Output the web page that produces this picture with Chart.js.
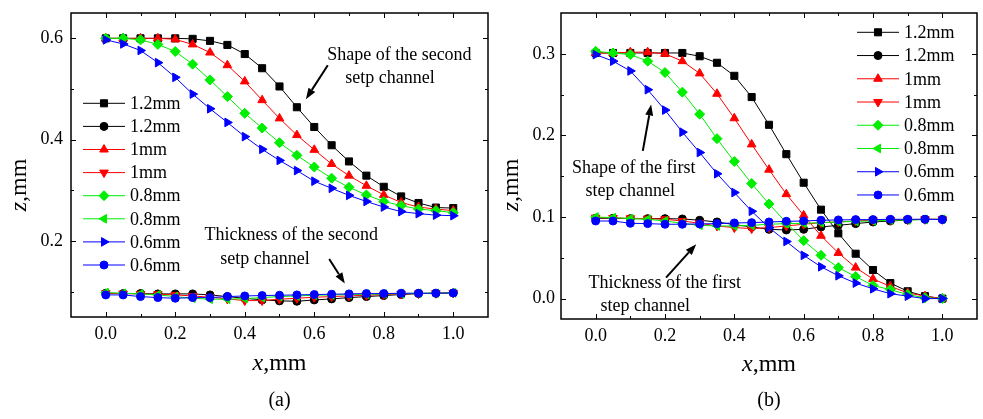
<!DOCTYPE html>
<html>
<head>
<meta charset="utf-8">
<script src="https://cdn.jsdelivr.net/npm/chart.js@4.4.1/dist/chart.umd.min.js"></script>
<style>
  html, body { margin: 0; padding: 0; background: #fff; }
  #wrap { position: relative; width: 983px; height: 419px; overflow: hidden; background: #fff; }
  #chartA { position: absolute; left: 0; top: 0; }
  #chartB { position: absolute; left: 495px; top: 0; }
</style>
</head>
<body>
<div id="wrap">
  <canvas id="chartA" width="495" height="419" style="width:495px;height:419px"></canvas>
  <canvas id="chartB" width="488" height="419" style="width:488px;height:419px"></canvas>
</div>
<script>
// x positions along the channel (mm)
const xValues = [0, 0.05, 0.1, 0.15, 0.2, 0.25, 0.3, 0.35, 0.4, 0.45, 0.5,
                 0.55, 0.6, 0.65, 0.7, 0.75, 0.8, 0.85, 0.9, 0.95, 1.0];

// (a) second step channel
const aShape12 = [0.600,0.600,0.600,0.600,0.600,0.599,0.595,0.587,0.569,0.541,0.505,0.464,0.425,0.389,0.357,0.329,0.307,0.288,0.275,0.266,0.265];
const aThick12 = [0.0969,0.0962,0.0962,0.0956,0.0956,0.0956,0.0936,0.0903,0.0870,0.0837,0.0818,0.0811,0.0837,0.0857,0.0883,0.0903,0.0923,0.0943,0.0962,0.0969,0.0975];
const aShape10 = [0.600,0.600,0.600,0.600,0.598,0.588,0.572,0.547,0.515,0.478,0.442,0.409,0.380,0.352,0.329,0.309,0.291,0.276,0.267,0.263,0.260];
const aThick10 = [0.0969,0.0962,0.0956,0.0949,0.0936,0.0916,0.0890,0.0857,0.0824,0.0824,0.0851,0.0870,0.0890,0.0903,0.0916,0.0929,0.0943,0.0956,0.0962,0.0969,0.0975];
const aShape08 = [0.600,0.600,0.597,0.588,0.574,0.549,0.518,0.485,0.452,0.423,0.394,0.369,0.346,0.324,0.306,0.291,0.278,0.270,0.263,0.260,0.256];
const aThick08 = [0.0982,0.0969,0.0956,0.0936,0.0903,0.0870,0.0851,0.0851,0.0864,0.0883,0.0903,0.0916,0.0929,0.0936,0.0943,0.0949,0.0956,0.0962,0.0969,0.0969,0.0975];
const aShape06 = [0.597,0.589,0.576,0.552,0.523,0.490,0.461,0.434,0.406,0.381,0.359,0.339,0.318,0.304,0.290,0.278,0.267,0.258,0.254,0.251,0.250];
const aThick06 = [0.0936,0.0936,0.0903,0.0883,0.0870,0.0883,0.0883,0.0903,0.0916,0.0923,0.0929,0.0936,0.0943,0.0949,0.0956,0.0962,0.0962,0.0969,0.0969,0.0969,0.0975];

// (b) first step channel
const bShape12 = [0.301,0.301,0.301,0.301,0.301,0.301,0.297,0.289,0.273,0.247,0.213,0.177,0.142,0.109,0.080,0.055,0.035,0.019,0.009,0.003,0.000];
const bThick12 = [0.0984,0.0984,0.0980,0.0980,0.0980,0.0976,0.0960,0.0939,0.0907,0.0878,0.0849,0.0841,0.0849,0.0878,0.0898,0.0919,0.0939,0.0951,0.0964,0.0972,0.0972];
const bShape10 = [0.301,0.301,0.302,0.302,0.300,0.291,0.276,0.251,0.221,0.189,0.158,0.128,0.102,0.077,0.056,0.038,0.024,0.015,0.007,0.003,0.000];
const bThick10 = [0.0992,0.0988,0.0984,0.0980,0.0972,0.0951,0.0923,0.0890,0.0870,0.0858,0.0870,0.0890,0.0911,0.0931,0.0939,0.0951,0.0960,0.0964,0.0968,0.0972,0.0972];
const bShape08 = [0.303,0.301,0.299,0.291,0.277,0.253,0.226,0.196,0.168,0.141,0.116,0.093,0.071,0.053,0.038,0.027,0.016,0.011,0.005,0.001,0.000];
const bThick08 = [0.1000,0.0992,0.0980,0.0972,0.0951,0.0923,0.0898,0.0890,0.0890,0.0898,0.0911,0.0919,0.0923,0.0931,0.0939,0.0947,0.0951,0.0960,0.0964,0.0968,0.0972];
const bShape06 = [0.299,0.291,0.279,0.256,0.231,0.204,0.179,0.153,0.130,0.107,0.087,0.070,0.053,0.039,0.028,0.019,0.012,0.006,0.003,0.000,0.000];
const bThick06 = [0.0951,0.0951,0.0923,0.0919,0.0911,0.0911,0.0915,0.0919,0.0927,0.0931,0.0939,0.0947,0.0951,0.0960,0.0964,0.0968,0.0968,0.0972,0.0972,0.0972,0.0968];

const seriesLabels = ['1.2mm', '1.2mm', '1mm', '1mm', '0.8mm', '0.8mm', '0.6mm', '0.6mm'];
const seriesColors = ['#000000', '#000000', '#ff0000', '#ff0000', '#00ee00', '#00ee00', '#0000ff', '#0000ff'];
const seriesMarkers = ['rect', 'circle', 'triangle', 'triangle', 'rectRot', 'triangle', 'triangle', 'circle'];
const seriesRotation = [0, 0, 0, 180, 0, 270, 90, 0];
const seriesRadius = [5, 4, 5, 5, 5, 5, 5, 4];

// axis ticks
const xTickValues = [0, 0.2, 0.4, 0.6, 0.8, 1.0];
const xMinorValues = [0.1, 0.3, 0.5, 0.7, 0.9];
const aYTickValues = [0.2, 0.4, 0.6];
const aYMinorValues = [0.1, 0.3, 0.5];
const bYTickValues = [0.0, 0.1, 0.2, 0.3];
const bYMinorValues = [0.05, 0.15, 0.25];

const SERIF = '"Liberation Serif", "Times New Roman", serif';

const makeDatasets = (series) => series.map((ys, i) => ({
    label: seriesLabels[i],
    data: xValues.map((x, j) => ({ x: x, y: ys[j] })),
    borderColor: seriesColors[i],
    backgroundColor: seriesColors[i],
    borderWidth: 1,
    pointStyle: seriesMarkers[i],
    pointRotation: seriesRotation[i],
    pointRadius: seriesRadius[i],
    pointBackgroundColor: seriesColors[i],
    pointBorderColor: seriesColors[i],
    pointBorderWidth: 1,
    tension: 0,
    order: series.length - i
}));

const markPoint = (ctx, style, rotation, radius, x, y) => {
    if (Chart.helpers && Chart.helpers.drawPoint) {
        Chart.helpers.drawPoint(ctx, { pointStyle: style, rotation: rotation, radius: radius, borderWidth: 1 }, x, y);
    } else {
        ctx.beginPath();
        ctx.arc(x, y, radius, 0, Math.PI * 2);
        ctx.fill();
    }
};

const drawVarTitle = (ctx, v, rest, x, y, rotate) => {
    ctx.save();
    ctx.translate(x, y);
    if (rotate) ctx.rotate(-Math.PI / 2);
    ctx.fillStyle = '#000';
    ctx.textBaseline = 'middle';
    ctx.textAlign = 'left';
    ctx.font = 'italic 24px ' + SERIF;
    const w1 = ctx.measureText(v).width;
    ctx.font = '24px ' + SERIF;
    const w2 = ctx.measureText(rest).width;
    const sx = -(w1 + w2) / 2;
    ctx.font = 'italic 24px ' + SERIF;
    ctx.fillText(v, sx, 0);
    ctx.font = '24px ' + SERIF;
    ctx.fillText(rest, sx + w1, 0);
    ctx.restore();
};

const drawArrow = (ctx, x1, y1, x2, y2) => {
    const ang = Math.atan2(y2 - y1, x2 - x1);
    const len = 11, half = 4;
    const bx = x2 - Math.cos(ang) * len, by = y2 - Math.sin(ang) * len;
    ctx.beginPath();
    ctx.moveTo(x1, y1);
    ctx.lineTo(bx, by);
    ctx.lineWidth = 2;
    ctx.stroke();
    ctx.beginPath();
    ctx.moveTo(x2, y2);
    ctx.lineTo(bx - Math.sin(ang) * half, by + Math.cos(ang) * half);
    ctx.lineTo(bx + Math.sin(ang) * half, by - Math.cos(ang) * half);
    ctx.closePath();
    ctx.fill();
};

// frame, inward ticks, titles, notes and legend
const decoPlugin = {
    id: 'deco',
    afterDraw(chart) {
        const o = chart.options.plugins.deco;
        const ctx = chart.ctx, a = chart.chartArea;
        const sx = chart.scales.x, sy = chart.scales.y;
        ctx.save();
        ctx.strokeStyle = '#000';
        ctx.fillStyle = '#000';
        ctx.lineWidth = 1.5;
        ctx.strokeRect(a.left, a.top, a.right - a.left, a.bottom - a.top);

        ctx.lineWidth = 1;
        const tickX = (vals, len) => vals.forEach(v => {
            const px = Math.round(sx.getPixelForValue(v)) + 0.5;
            ctx.beginPath();
            ctx.moveTo(px, a.bottom); ctx.lineTo(px, a.bottom - len);
            ctx.moveTo(px, a.top); ctx.lineTo(px, a.top + len);
            ctx.stroke();
        });
        const tickY = (vals, len) => vals.forEach(v => {
            const py = Math.round(sy.getPixelForValue(v)) + 0.5;
            ctx.beginPath();
            ctx.moveTo(a.left, py); ctx.lineTo(a.left + len, py);
            ctx.moveTo(a.right, py); ctx.lineTo(a.right - len, py);
            ctx.stroke();
        });
        tickX(xTickValues, 5);
        tickX(xMinorValues, 3);
        tickY(o.yMajor, 5);
        tickY(o.yMinor, 3);

        const cx = (a.left + a.right) / 2;
        drawVarTitle(ctx, 'x', ',mm', cx, o.xTitleY, false);
        drawVarTitle(ctx, 'z', ',mm', o.yTitleX, o.yTitleY, true);

        ctx.font = '20px ' + SERIF;
        ctx.textAlign = 'center';
        ctx.textBaseline = 'middle';
        ctx.fillText(o.panel, cx, o.panelY);

        ctx.font = '18px ' + SERIF;
        o.notes.forEach(n => {
            ctx.fillText(n.text, sx.getPixelForValue(n.x), sy.getPixelForValue(n.y));
        });
        o.arrows.forEach(r => {
            drawArrow(ctx, sx.getPixelForValue(r.x1), sy.getPixelForValue(r.y1),
                sx.getPixelForValue(r.x2), sy.getPixelForValue(r.y2));
        });

        // legend
        ctx.textAlign = 'left';
        chart.data.datasets.forEach((ds, i) => {
            const y = o.legend.y + i * o.legend.dy;
            const x = o.legend.x;
            ctx.strokeStyle = ds.borderColor;
            ctx.fillStyle = ds.borderColor;
            ctx.lineWidth = 1;
            ctx.beginPath();
            ctx.moveTo(x, y); ctx.lineTo(x + 42, y);
            ctx.stroke();
            markPoint(ctx, ds.pointStyle, ds.pointRotation, ds.pointRadius, x + 21, y);
            ctx.fillStyle = '#000';
            ctx.fillText(ds.label, x + 47, y + 1);
        });
        ctx.restore();
    }
};

const makeOptions = (cfg) => ({
    responsive: false,
    animation: false,
    layout: { padding: { top: cfg.padTop, right: cfg.padRight, left: 0, bottom: 0 } },
    plugins: {
        legend: { display: false },
        tooltip: { enabled: false },
        deco: cfg
    },
    scales: {
        x: {
            type: 'linear',
            min: -0.1,
            max: 1.1,
            afterBuildTicks: s => { s.ticks = xTickValues.map(v => ({ value: v })); },
            afterFit: s => { s.height = cfg.xAxisHeight; s.paddingLeft = 0; s.paddingRight = 0; },
            grid: { display: false, drawTicks: false },
            border: { display: false },
            ticks: {
                padding: 6, autoSkip: false, maxRotation: 0, color: '#000',
                font: { family: SERIF, size: 18 },
                callback: v => v.toFixed(1)
            }
        },
        y: {
            type: 'linear',
            min: cfg.yMin,
            max: cfg.yMax,
            afterBuildTicks: s => { s.ticks = cfg.yMajor.map(v => ({ value: v })); },
            afterFit: s => { s.width = cfg.yAxisWidth; s.paddingTop = 0; s.paddingBottom = 0; },
            grid: { display: false, drawTicks: false },
            border: { display: false },
            ticks: {
                padding: cfg.yPad, autoSkip: false, color: '#000',
                font: { family: SERIF, size: 18 },
                callback: v => v.toFixed(1)
            }
        }
    }
});

new Chart(document.getElementById('chartA'), {
    type: 'line',
    data: { datasets: makeDatasets([aShape12, aThick12, aShape10, aThick10, aShape08, aThick08, aShape06, aThick06]) },
    options: makeOptions({
        padTop: 13, padRight: 7, xAxisHeight: 102, yAxisWidth: 71, yPad: 8,
        yMin: 0.05, yMax: 0.65, yMajor: aYTickValues, yMinor: aYMinorValues,
        xTitleY: 364, yTitleX: 20, yTitleY: 185, panel: '(a)', panelY: 401,
        legend: { x: 83, y: 103.3, dy: 23.1 },
        notes: [
            { x: 0.845, y: 0.567, text: 'Shape of the second' },
            { x: 0.818, y: 0.522, text: 'setp channel' },
            { x: 0.534, y: 0.2105, text: 'Thickness of the second' },
            { x: 0.458, y: 0.1645, text: 'setp channel' }
        ],
        arrows: [
            { x1: 0.639, y1: 0.547, x2: 0.576, y2: 0.48 },
            { x1: 0.643, y1: 0.1645, x2: 0.688, y2: 0.116 }
        ]
    }),
    plugins: [decoPlugin]
});

new Chart(document.getElementById('chartB'), {
    type: 'line',
    data: { datasets: makeDatasets([bShape12, bThick12, bShape10, bThick10, bShape08, bThick08, bShape06, bThick06]) },
    options: makeOptions({
        padTop: 13, padRight: 3, xAxisHeight: 100, yAxisWidth: 66, yPad: 6,
        yMin: -0.025, yMax: 0.35, yMajor: bYTickValues, yMinor: bYMinorValues,
        xTitleY: 365, yTitleX: 17, yTitleY: 185, panel: '(b)', panelY: 401,
        legend: { x: 362, y: 32.3, dy: 23.24 },
        notes: [
            { x: 0.11, y: 0.1596, text: 'Shape of the first' },
            { x: 0.10, y: 0.131, text: 'step channel' },
            { x: 0.199, y: 0.0189, text: 'Thickness of the first' },
            { x: 0.143, y: -0.0089, text: 'step channel' }
        ],
        arrows: [
            { x1: 0.136, y1: 0.181, x2: 0.16, y2: 0.238 },
            { x1: 0.203, y1: 0.0258, x2: 0.29, y2: 0.0666 }
        ]
    }),
    plugins: [decoPlugin]
});
</script>
</body>
</html>
